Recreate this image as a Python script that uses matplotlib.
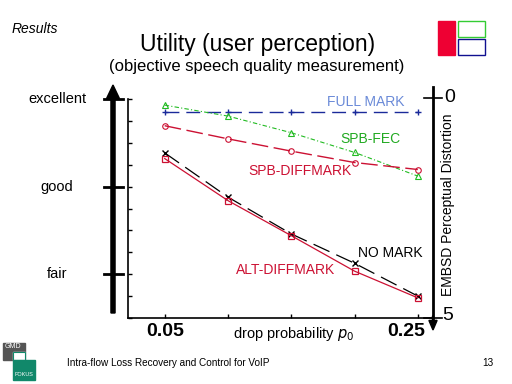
import numpy as np
import matplotlib
matplotlib.use("Agg")
import matplotlib.pyplot as plt
from matplotlib.patches import Rectangle, FancyArrow
from matplotlib.lines import Line2D

plt.rcParams['font.family'] = ['Liberation Sans', 'DejaVu Sans']

# drop probability
p0 = [0.05, 0.10, 0.15, 0.20, 0.25]

# EMBSD perceptual distortion (0 = best, 5 = worst)
full_mark = [0.29, 0.29, 0.29, 0.29, 0.29]
spb_fec = [0.14, 0.39, 0.77, 1.22, 1.76]
spb_diffmark = [0.61, 0.91, 1.19, 1.45, 1.61]
no_mark = [1.23, 2.24, 3.08, 3.75, 4.50]
alt_diffmark = [1.36, 2.32, 3.12, 3.93, 4.54]

quality_labels = ['excellent', 'good', 'fair']
quality_pos = [0.0, 2.0, 4.0]

W, H = 512, 384
fig = plt.figure(figsize=(5.12, 3.84), dpi=100)

def fx(px):
    return px / W

def fy(py):
    return 1 - py / H

ax = fig.add_axes([fx(128), fy(318), fx(433) - fx(128), fy(99) - fy(318)])

ax.plot(p0, full_mark, color='#1a2a9a', lw=1, dashes=(10, 5), marker='+', ms=5)
ax.plot(p0, spb_fec, color='#22bb22', lw=0.8, dashes=(4, 2, 1, 2), marker='^',
        ms=4, mfc='none', mew=0.8)
ax.plot(p0, spb_diffmark, color='#cc1133', lw=1, dashes=(12, 4), marker='o',
        ms=4, mfc='none', mew=0.8)
ax.plot(p0, no_mark, color='black', lw=0.9, dashes=(14, 6), marker='x', ms=4)
ax.plot(p0, alt_diffmark, color='#cc1133', lw=0.9, marker='s', ms=4,
        mfc='none', mew=0.9)

ax.set_xlim(0.021, 0.262)
ax.set_ylim(5, 0)
ax.set_yticks(np.arange(0, 5.01, 0.5))
ax.set_xticks(p0)
ax.tick_params(direction='in', length=3, width=1, labelleft=False,
               labelbottom=False)
for s in ['top', 'right']:
    ax.spines[s].set_visible(False)
ax.spines['left'].set_linewidth(1.2)
ax.spines['bottom'].set_linewidth(1.2)

# curve labels
ax.text(0.178, 0.07, 'FULL MARK', color='#6a8ad8', fontsize=10, va='center')
ax.text(0.189, 0.91, 'SPB-FEC', color='#22aa22', fontsize=10, va='center')
ax.text(0.1158, 1.64, 'SPB-DIFFMARK', color='#cc1133', fontsize=10,
        va='center')
ax.text(0.2027, 3.52, 'NO MARK', color='black', fontsize=10, va='center')
ax.text(0.1063, 3.90, 'ALT-DIFFMARK', color='#cc1133', fontsize=10,
        va='center')

# x tick labels
fig.text(fx(165), fy(331), '0.05', ha='center', va='center', fontsize=14,
         fontweight='bold')
fig.text(fx(406), fy(331), '0.25', ha='center', va='center', fontsize=14,
         fontweight='bold')
fig.text(fx(294), fy(334), 'drop probability $p_0$', ha='center',
         va='center', fontsize=10.5)

# left quality scale with thick arrow
for lab, q in zip(quality_labels, quality_pos):
    y = ax.transData.transform((0.05, q))[1] / H
    fig.text(fx(57), y, lab, ha='center', va='center', fontsize=10.5)
fig.add_artist(FancyArrow(fx(113), fy(313), 0, fy(85) - fy(313), width=0.008,
                          head_width=0.025, head_length=0.035,
                          length_includes_head=True, color='black',
                          transform=fig.transFigure))
for q in quality_pos:
    y = ax.transData.transform((0.05, q))[1] / H
    fig.add_artist(Line2D([fx(104), fx(123)], [y, y], color='black', lw=2,
                          transform=fig.transFigure))

# right EMBSD scale
fig.add_artist(Line2D([fx(433), fx(433)], [fy(87), fy(318)], color='black',
                      lw=2, transform=fig.transFigure))
fig.add_artist(FancyArrow(fx(433), fy(316), 0, fy(330) - fy(316), width=0.002,
                          head_width=0.016, head_length=0.025,
                          length_includes_head=True, color='black',
                          transform=fig.transFigure))
fig.add_artist(Line2D([fx(424), fx(442)], [fy(98), fy(98)], color='black',
                      lw=1.2, transform=fig.transFigure))
fig.add_artist(Line2D([fx(424), fx(442)], [fy(318), fy(318)], color='black',
                      lw=1.2, transform=fig.transFigure))
fig.text(fx(450), fy(97), '0', ha='center', va='center', fontsize=14)
fig.text(fx(448), fy(316), '5', ha='center', va='center', fontsize=14)
fig.text(fx(448), fy(205), 'EMBSD Perceptual Distortion', rotation=90,
         ha='center', va='center', fontsize=10)

# slide decorations
fig.text(fx(12), fy(29), 'Results', fontsize=10, style='italic', va='center')
fig.text(fx(258), fy(44), 'Utility (user perception)', fontsize=16.5,
         ha='center', va='center')
fig.text(fx(257), fy(66), '(objective speech quality measurement)',
         fontsize=12, ha='center', va='center')
fig.text(fx(67), fy(363), 'Intra-flow Loss Recovery and Control for VoIP',
         fontsize=7.2, va='center')
fig.text(fx(488), fy(363), '13', fontsize=7.2, va='center', ha='center')

fig.add_artist(Rectangle((fx(438), fy(55)), fx(17), fy(21) - fy(55),
                         color='#ee0033', transform=fig.transFigure))
fig.add_artist(Rectangle((fx(458), fy(37)), fx(27), fy(21) - fy(37),
                         fill=False, ec='#33cc33', lw=1,
                         transform=fig.transFigure))
fig.add_artist(Rectangle((fx(458), fy(55)), fx(27), fy(39) - fy(55),
                         fill=False, ec='#101090', lw=1,
                         transform=fig.transFigure))

# GMD FOKUS logo
fig.add_artist(Rectangle((fx(3), fy(360)), fx(22), fy(343) - fy(360),
                         color='#555555', transform=fig.transFigure))
fig.add_artist(Rectangle((fx(13), fy(360)), fx(12), fy(352) - fy(360),
                         color='white', transform=fig.transFigure))
fig.add_artist(Rectangle((fx(13), fy(380)), fx(22), fy(360) - fy(380),
                         color='#11886a', transform=fig.transFigure))
fig.add_artist(Rectangle((fx(13), fy(360)), fx(12), fy(352) - fy(360),
                         fill=False, ec='#11886a', lw=0.8,
                         transform=fig.transFigure))
fig.text(fx(13), fy(347), 'GMD', fontsize=5, color='white', ha='center',
         va='center')
fig.text(fx(24), fy(375), 'FOKUS', fontsize=4, color='white', ha='center',
         va='center')

fig.savefig('out.png', dpi=100)
